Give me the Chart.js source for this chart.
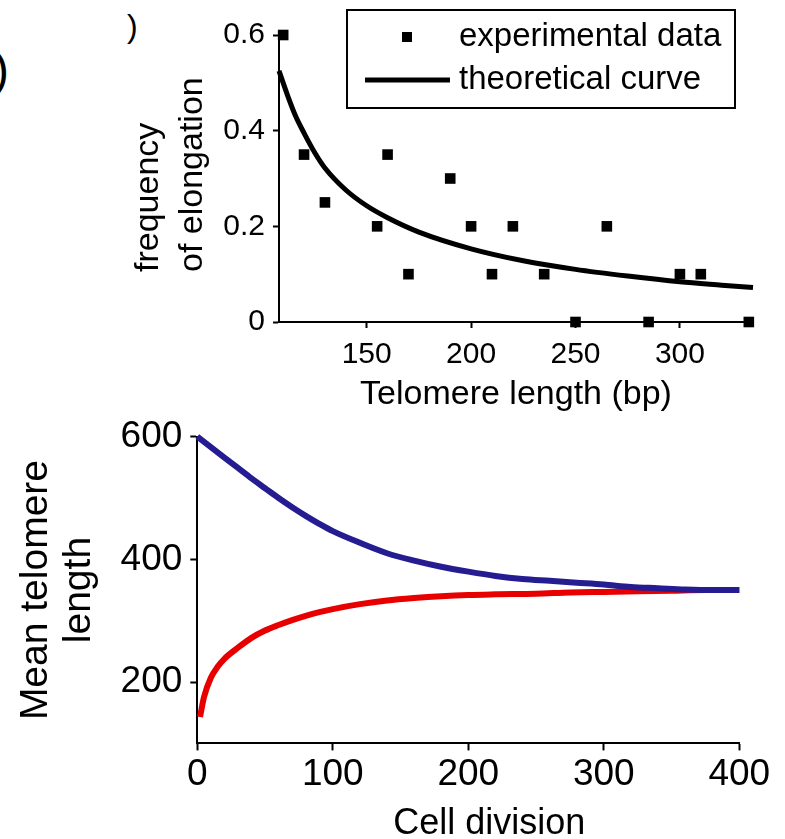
<!DOCTYPE html>
<html>
<head>
<meta charset="utf-8">
<script src="https://cdn.jsdelivr.net/npm/chart.js@4"></script>
<style>
  html, body { margin: 0; padding: 0; background: #fff; }
  body { width: 785px; height: 839px; position: relative; overflow: hidden; font-family: 'Liberation Sans', Arial, sans-serif; }
  .panel { position: absolute; left: 0; width: 785px; }
  #top { top: 0; height: 420px; }
  #bottom { top: 400px; height: 439px; }
  .tag { position: absolute; color: #000; line-height: 1; }
</style>
</head>
<body>
<span class="tag" style="left:-7px; top:46px; font-size:48px;">)</span>
<span class="tag" style="left:127px; top:10px; font-size:32px;">)</span>
<div class="panel" id="top"><canvas id="elongation"></canvas></div>
<div class="panel" id="bottom"><canvas id="telomere"></canvas></div>
<script>
// panel 1: frequency of elongation vs telomere length
const expLength = [110, 120, 130, 155, 160, 170, 190, 200, 210, 220, 235, 250, 265, 285, 300, 310, 333];
const expFreq = [0.6, 0.35, 0.25, 0.2, 0.35, 0.1, 0.3, 0.2, 0.1, 0.2, 0.1, 0, 0.2, 0, 0.1, 0.1, 0];
const curveLength = [108, 112, 116, 120, 125, 130, 140, 150, 160, 175, 200, 225, 250, 275, 300, 320, 335];
const curveFreq = [0.525, 0.475, 0.43, 0.395, 0.355, 0.322, 0.276, 0.243, 0.218, 0.188, 0.153, 0.128, 0.11, 0.096, 0.084, 0.077, 0.072];
const lengthTicks = [150, 200, 250, 300];
const freqTicks = [0, 0.2, 0.4, 0.6];

// panel 2: mean telomere length vs cell division
const divisionLong = [0, 10, 20, 30, 40, 50, 60, 70, 80, 90, 100, 120, 140, 160, 180, 200, 220, 240, 260, 280, 300, 320, 340, 360, 380, 400];
const meanLong = [600, 583, 566, 549, 532, 516, 500, 485, 471, 458, 446, 427, 410, 398, 388, 380, 373, 368, 365, 362, 359, 355, 353, 351, 350, 350];
const divisionShort = [2, 5, 10, 15, 20, 30, 40, 50, 60, 70, 80, 90, 100, 120, 140, 160, 180, 200, 220, 250, 275, 300, 325, 350, 375, 400];
const meanShort = [143, 176, 207, 225, 238, 256, 272, 284, 293, 301, 308, 314, 319, 327, 333, 337, 340, 342, 343, 344, 346, 347, 348, 349, 350, 350];
const divisionTicks = [0, 100, 200, 300, 400];
const meanTicks = [200, 400, 600];

Chart.defaults.font.family = '"Liberation Sans", Arial, sans-serif';
Chart.defaults.color = '#000';

const toPoints = (xs, ys) => xs.map((x, i) => ({x: x, y: ys[i]}));

// legend drawn as a framed box, like the figure
const boxLegend = {
    id: 'boxLegend',
    afterDraw(chart, args, opts) {
        if (!opts.rowY) return;
        const {ctx} = chart;
        const [pts, curve] = chart.data.datasets;
        ctx.save();
        ctx.strokeStyle = '#000';
        ctx.lineWidth = 2;
        ctx.strokeRect(opts.left, opts.top, opts.width, opts.height);
        ctx.fillStyle = pts.backgroundColor;
        ctx.fillRect(opts.markX - 5, opts.rowY[0] - 5, 10, 10);
        ctx.beginPath();
        ctx.moveTo(opts.lineX[0], opts.rowY[1]);
        ctx.lineTo(opts.lineX[1], opts.rowY[1]);
        ctx.lineWidth = curve.borderWidth;
        ctx.strokeStyle = curve.borderColor;
        ctx.stroke();
        ctx.fillStyle = '#000';
        ctx.font = opts.font;
        ctx.textAlign = 'left';
        ctx.textBaseline = 'middle';
        ctx.fillText(pts.label, opts.textX, opts.rowY[0]);
        ctx.fillText(curve.label, opts.textX, opts.rowY[1]);
        ctx.restore();
    }
};

// axis titles placed off-centre, as in the figure
const looseTitles = {
    id: 'looseTitles',
    afterDraw(chart, args, opts) {
        if (!opts.items) return;
        const {ctx, chartArea} = chart;
        ctx.save();
        ctx.fillStyle = '#000';
        ctx.textBaseline = 'middle';
        opts.items.forEach(item => {
            ctx.save();
            ctx.font = item.font;
            ctx.textAlign = item.align;
            if (item.rotate) {
                ctx.translate(item.x, chartArea.bottom - item.lift);
                ctx.rotate(-Math.PI / 2);
            } else {
                ctx.translate(chartArea.left + item.dx, item.y);
            }
            ctx.fillText(item.text, 0, 0);
            ctx.restore();
        });
        ctx.restore();
    }
};

const axisLine = {color: '#000', width: 2};
const tickGrid = len => ({display: true, drawOnChartArea: false, tickLength: len, tickColor: '#000', tickWidth: 2});

new Chart(document.getElementById('elongation'), {
    type: 'scatter',
    data: {
        datasets: [{
            label: 'experimental data',
            data: toPoints(expLength, expFreq),
            pointStyle: 'rect',
            pointRadius: 7.5,
            pointBorderWidth: 0,
            backgroundColor: '#000',
            borderColor: '#000',
            clip: false
        }, {
            label: 'theoretical curve',
            data: toPoints(curveLength, curveFreq),
            showLine: true,
            borderColor: '#000',
            borderWidth: 5,
            pointRadius: 0,
            cubicInterpolationMode: 'monotone',
            clip: false
        }]
    },
    options: {
        responsive: true,
        maintainAspectRatio: false,
        animation: false,
        layout: {padding: {top: 35, right: 32, left: 0, bottom: 0}},
        scales: {
            x: {
                type: 'linear',
                min: 108,
                max: 335,
                afterBuildTicks: s => { s.ticks = lengthTicks.map(v => ({value: v})); },
                afterFit: s => { s.height = 98; },
                border: axisLine,
                grid: tickGrid(6),
                ticks: {font: {size: 30, lineHeight: 1}, padding: 12, maxRotation: 0},
                title: {display: true, text: 'Telomere length (bp)', font: {size: 34, lineHeight: 1}, padding: {top: 0, bottom: 8}}
            },
            y: {
                min: 0,
                max: 0.6,
                afterBuildTicks: s => { s.ticks = freqTicks.map(v => ({value: v})); },
                afterFit: s => { s.width = 279; },
                border: axisLine,
                grid: tickGrid(6),
                ticks: {font: {size: 30}, padding: 8, callback: v => String(v)}
            }
        },
        plugins: {
            legend: {display: false},
            tooltip: {enabled: false},
            boxLegend: {left: 347, top: 10, width: 388, height: 98, markX: 407, lineX: [365, 450], textX: 459, rowY: [37, 80], font: '33px "Liberation Sans", Arial'},
            looseTitles: {items: [
                {text: 'frequency', rotate: true, x: 149, lift: 50, align: 'left', font: '34px "Liberation Sans", Arial'},
                {text: 'of elongation', rotate: true, x: 193, lift: 50, align: 'left', font: '34px "Liberation Sans", Arial'}
            ]}
        }
    },
    plugins: [boxLegend, looseTitles]
});

new Chart(document.getElementById('telomere'), {
    type: 'scatter',
    data: {
        datasets: [{
            label: 'long start',
            data: toPoints(divisionLong, meanLong),
            showLine: true,
            borderColor: 'rgb(38, 28, 145)',
            borderWidth: 6,
            pointRadius: 0,
            cubicInterpolationMode: 'monotone',
            clip: false
        }, {
            label: 'short start',
            data: toPoints(divisionShort, meanShort),
            showLine: true,
            borderColor: 'rgb(232, 0, 0)',
            borderWidth: 6,
            pointRadius: 0,
            cubicInterpolationMode: 'monotone',
            clip: false
        }]
    },
    options: {
        responsive: true,
        maintainAspectRatio: false,
        animation: false,
        layout: {padding: {top: 36.7, right: 45.7, left: 0, bottom: 0}},
        scales: {
            x: {
                type: 'linear',
                min: 0,
                max: 400,
                afterBuildTicks: s => { s.ticks = divisionTicks.map(v => ({value: v})); },
                afterFit: s => { s.height = 95.6; },
                border: axisLine,
                grid: tickGrid(7),
                ticks: {font: {size: 37, lineHeight: 1}, padding: 6, maxRotation: 0}
            },
            y: {
                min: 100,
                max: 600,
                afterBuildTicks: s => { s.ticks = meanTicks.map(v => ({value: v})); },
                afterFit: s => { s.width = 197.3; },
                border: axisLine,
                grid: tickGrid(7),
                ticks: {font: {size: 37}, padding: 8},
                title: {display: true, text: ['Mean telomere', 'length'], font: {size: 39, lineHeight: 1.1}, padding: {top: 15, bottom: 0}}
            }
        },
        plugins: {
            legend: {display: false},
            tooltip: {enabled: false},
            looseTitles: {items: [
                {text: 'Cell division', rotate: false, dx: 292, y: 424, align: 'center', font: '36px "Liberation Sans", Arial'}
            ]}
        }
    },
    plugins: [looseTitles]
});
</script>
</body>
</html>
